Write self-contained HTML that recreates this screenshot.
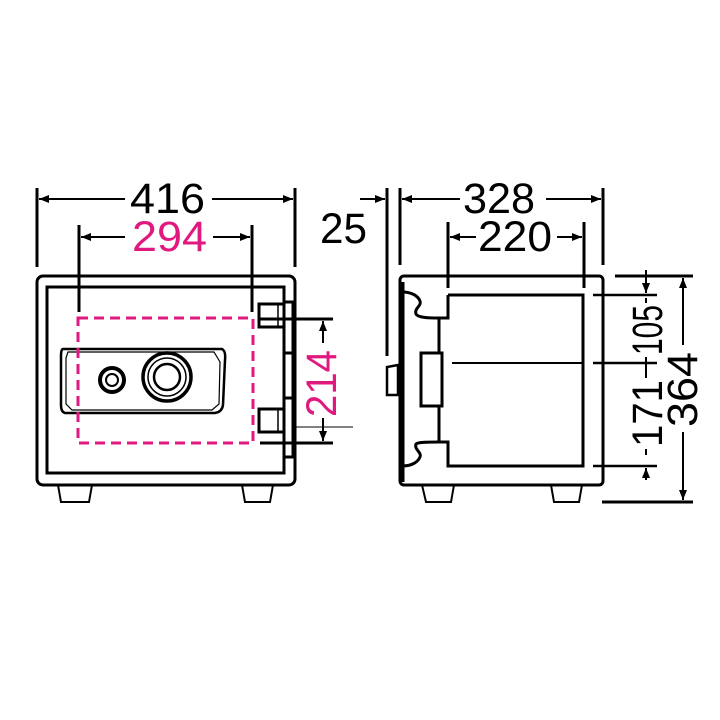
<!DOCTYPE html>
<html><head><meta charset="utf-8"><style>
html,body{margin:0;padding:0;background:#fff;width:720px;height:720px;overflow:hidden}
svg{display:block}
text{font-family:"Liberation Sans",sans-serif;font-size:43px}
</style></head><body>
<svg width="720" height="720" viewBox="0 0 720 720" xmlns="http://www.w3.org/2000/svg">
<defs>
<marker id="a" viewBox="0 0 10 10" refX="10" refY="5" markerWidth="10" markerHeight="10" markerUnits="userSpaceOnUse" orient="auto"><path d="M0,1 L10,5 L0,9 z" fill="#000"/></marker>
</defs>
<g fill="none" stroke="#000" stroke-width="3">
<!-- FRONT -->
<rect x="37" y="276" width="258" height="209" rx="6"/>
<rect x="47" y="287" width="237" height="186"/>
<path d="M58,485 L61,502 L89,502 L92,485 M242,485 L245,502 L270,502 L273,485" stroke-width="2"/>
<path d="M63,349 L222,349 Q226,351 225,360 L223,405 Q222,412 215,413 L65,413 Q61,412 61,405 L61,356 Q61,349 63,349 Z" stroke-width="2.5"/>
<path d="M68,352 L214,352 L220,362 L219,404 L212,410 L72,410 L66,404 L66,358 Z" stroke-width="1.2"/>
<circle cx="112" cy="380" r="12" stroke-width="4"/>
<circle cx="112" cy="380" r="6" stroke-width="2"/>
<circle cx="167" cy="377" r="24" stroke-width="3.5"/>
<circle cx="167" cy="377" r="19" stroke-width="1.5"/>
<circle cx="167" cy="377" r="13" stroke-width="2.5"/>
<rect x="259" y="304" width="25" height="23"/>
<rect x="259" y="409" width="25" height="23"/>
<line x1="278" y1="304" x2="278" y2="327" stroke-width="1.5"/>
<line x1="278" y1="409" x2="278" y2="432" stroke-width="1.5"/>
<rect x="284" y="302" width="9" height="155" stroke-width="3"/>
<line x1="284" y1="353" x2="293" y2="353" stroke-width="3"/>
<line x1="284" y1="398" x2="293" y2="398" stroke-width="3"/>
<!-- 416 -->
<line x1="37" y1="188" x2="37" y2="267"/>
<line x1="295" y1="188" x2="295" y2="267"/>
<line x1="125" y1="199" x2="39" y2="199" stroke-width="2" marker-end="url(#a)"/>
<line x1="212" y1="199" x2="293" y2="199" stroke-width="2" marker-end="url(#a)"/>
<!-- 294 -->
<line x1="79" y1="225" x2="79" y2="312"/>
<line x1="252" y1="225" x2="252" y2="312"/>
<line x1="125" y1="237" x2="81" y2="237" stroke-width="2" marker-end="url(#a)"/>
<line x1="213" y1="237" x2="250" y2="237" stroke-width="2" marker-end="url(#a)"/>
<!-- 214 -->
<line x1="259" y1="319" x2="333" y2="319"/>
<line x1="260" y1="443" x2="333" y2="443"/>
<line x1="293" y1="427" x2="353" y2="427" stroke-width="1"/>
<line x1="323" y1="343" x2="323" y2="321" stroke-width="2" marker-end="url(#a)"/>
<line x1="323" y1="418" x2="323" y2="441" stroke-width="2" marker-end="url(#a)"/>
</g>
<rect x="78" y="318" width="175" height="125" fill="none" stroke="#e0197f" stroke-width="3" stroke-dasharray="10,6"/>
<text x="130" y="213" textLength="75" lengthAdjust="spacingAndGlyphs" fill="#000">416</text>
<text x="132" y="251" textLength="75" lengthAdjust="spacingAndGlyphs" fill="#e0197f">294</text>
<text transform="translate(336,417) rotate(-90)" textLength="67" lengthAdjust="spacingAndGlyphs" fill="#e0197f">214</text>
<text x="320" y="243" textLength="47" lengthAdjust="spacingAndGlyphs" fill="#000">25</text>

<g fill="none" stroke="#000" stroke-width="3">
<rect x="400" y="276" width="203" height="209" rx="4"/>
<line x1="402" y1="282" x2="402" y2="482" stroke-width="5"/>
<path d="M448,295 L583,295 L583,466 L448,466 L448,442 L439,442 L439,406 M439,353 L439,318 L448,318 L448,295"/>
<path d="M402,292 C412,292 418,296 420,301 C422,306 414,308 416,314 C418,318 430,318 439,318"/>
<path d="M402,466 C412,466 418,462 420,457 C422,452 414,450 416,444 C418,442 430,442 439,442"/>
<rect x="421" y="353" width="21" height="53"/>
<path d="M398,365 L398,395 L387,395 L387,367 Z" stroke-width="2.5"/>
<line x1="452" y1="363" x2="583" y2="363" stroke-width="2"/>
<path d="M422,485 L426,502 L451,502 L454,485 M551,485 L554,502 L579,502 L582,485" stroke-width="2"/>
<line x1="387" y1="188" x2="387" y2="356"/>
<line x1="400" y1="188" x2="400" y2="265"/>
<line x1="603" y1="188" x2="603" y2="265"/>
<line x1="360" y1="199" x2="385" y2="199" stroke-width="2" marker-end="url(#a)"/>
<line x1="460" y1="199" x2="402" y2="199" stroke-width="2" marker-end="url(#a)"/>
<line x1="546" y1="199" x2="601" y2="199" stroke-width="2" marker-end="url(#a)"/>
<line x1="448" y1="222" x2="448" y2="288"/>
<line x1="584" y1="222" x2="584" y2="288"/>
<line x1="476" y1="237" x2="450" y2="237" stroke-width="2" marker-end="url(#a)"/>
<line x1="557" y1="237" x2="582" y2="237" stroke-width="2" marker-end="url(#a)"/>
<line x1="615" y1="276" x2="693" y2="276"/>
<line x1="602" y1="502" x2="693" y2="502"/>
<line x1="593" y1="295" x2="657" y2="295" stroke-width="2.5"/>
<line x1="593" y1="363" x2="657" y2="363" stroke-width="2.5"/>
<line x1="593" y1="466" x2="657" y2="466" stroke-width="2.5"/>
<line x1="646" y1="270" x2="646" y2="293" stroke-width="2" marker-end="url(#a)"/>
<line x1="646" y1="298" x2="646" y2="303" stroke-width="2"/>
<line x1="646" y1="357" x2="646" y2="378" stroke-width="2"/>
<line x1="646" y1="449" x2="646" y2="455" stroke-width="2"/>
<line x1="646" y1="480" x2="646" y2="468" stroke-width="2" marker-end="url(#a)"/>
<line x1="683" y1="345" x2="683" y2="278" stroke-width="2" marker-end="url(#a)"/>
<line x1="683" y1="432" x2="683" y2="500" stroke-width="2" marker-end="url(#a)"/>
</g>
<text x="463" y="213" textLength="72" lengthAdjust="spacingAndGlyphs" fill="#000">328</text>
<text x="478" y="251" textLength="74" lengthAdjust="spacingAndGlyphs" fill="#000">220</text>
<text transform="translate(662,355) rotate(-90)" textLength="50" lengthAdjust="spacingAndGlyphs" fill="#000">105</text>
<text transform="translate(662,447) rotate(-90)" textLength="67" lengthAdjust="spacingAndGlyphs" fill="#000">171</text>
<text transform="translate(697,427) rotate(-90)" textLength="75" lengthAdjust="spacingAndGlyphs" fill="#000">364</text>
</svg>
</body></html>
